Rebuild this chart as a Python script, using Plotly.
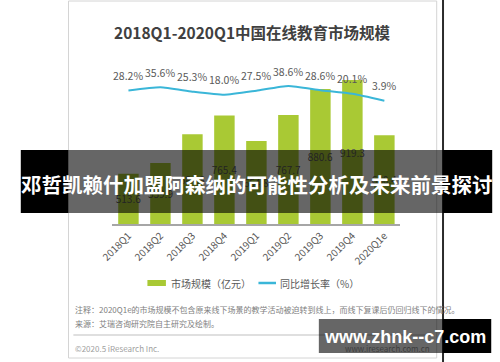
import plotly.graph_objects as go

# ---------------- data ----------------
categories = ["2018Q1", "2018Q2", "2018Q3", "2018Q4", "2019Q1",
              "2019Q2", "2019Q3", "2019Q4", "2020Q1e"]
market_size = [513.6, 559.9, 684.8, 765.4, 654.8, 767.7, 880.6, 919.3, 680.4]
growth_rate = [28.2, 35.6, 25.3, 18.0, 27.5, 38.6, 28.6, 20.1, 3.9]

title_text = "2018Q1-2020Q1中国在线教育市场规模"
legend_bar = "市场规模（亿元）"
legend_line = "同比增长率（%）"
note_text = "注释：2020Q1e的市场规模不包含原来线下场景的教学活动被迫转到线上，而线下复课后仍回归线下的情况。"
source_text = "来源：艾瑞咨询研究院自主研究及绘制。"
copyright_text = "©2020.5 iResearch Inc."
site_text = "www.iresearch.com.cn"
banner_text = "邓哲凯赖什加盟阿森纳的可能性分析及未来前景探讨"
watermark_text = "www.zhnk--c7.com"

# ---------------- styling ----------------
W, H = 500, 362
BAR = "#A9C934"
LINE = "#3AB6D8"
CJK = "Noto Sans CJK SC"
Y_MIN, Y_MAX = 296, 1006
Y2_MIN, Y2_MAX = -287.2, 100


def px(x):
    return x / W


def py(y):
    return 1 - y / H


fig = go.Figure()

fig.add_trace(go.Bar(
    x=categories, y=[v - Y_MIN for v in market_size], base=Y_MIN,
    marker=dict(color=BAR, line=dict(width=0)),
    text=[f"{v:.1f}" for v in market_size],
    textposition="inside", insidetextanchor="middle", textangle=0,
    constraintext="none",
    textfont=dict(family=CJK, size=10, color="#595959"),
    yaxis="y", hoverinfo="skip",
))

fig.add_trace(go.Scatter(
    x=categories, y=growth_rate, mode="lines",
    line=dict(color=LINE, width=2, shape="spline", smoothing=0.5),
    yaxis="y2", hoverinfo="skip",
))

annotations = []
for c, r in zip(categories, growth_rate):
    annotations.append(dict(
        x=c, y=r, xref="x", yref="y2", text=f"{r:.1f}%", showarrow=False,
        yshift=15, xanchor="center", yanchor="middle",
        font=dict(family=CJK, size=10.5, color="#595959"),
    ))


def ann(text, x, y, size, color, xanchor="left", family=CJK):
    annotations.append(dict(
        x=px(x), y=py(y), xref="paper", yref="paper", text=text,
        showarrow=False, xanchor=xanchor, yanchor="middle",
        font=dict(family=family, size=size, color=color),
    ))


ann("<b>" + title_text + "</b>", 246, 32, 15.5, "#404040", "center")
ann(legend_bar, 160, 283, 10, "#595959")
ann(legend_line, 272, 283, 10, "#595959")
ann(note_text, 62, 309, 8, "#808080")
ann(source_text, 62, 323, 8, "#808080")
ann(copyright_text, 62, 348, 8, "#a0a0a0")
ann(site_text, 430, 348, 8, "#3d3d3d", "right")
ann("<b>" + banner_text + "</b>", 250, 184, 20.5, "white", "center")
ann("<b>" + watermark_text + "</b>", 402, 337, 18, "white", "center",
    "Liberation Sans, Arial, sans-serif")


def rect(x0, y0, x1, y1, fill, layer="above", line_color=None, lw=0):
    return dict(type="rect", xref="paper", yref="paper",
                x0=px(x0), x1=px(x1), y0=py(y1), y1=py(y0),
                fillcolor=fill, layer=layer,
                line=dict(color=line_color or "rgba(0,0,0,0)", width=lw))


def hline(x0, x1, y, color, width, layer="below"):
    return dict(type="line", xref="paper", yref="paper",
                x0=px(x0), x1=px(x1), y0=py(y), y1=py(y),
                line=dict(color=color, width=width), layer=layer)


shapes = [
    # chart panel
    rect(57, 1, 435, 358, "white", "below", "#d4d4d4", 1),
    # dark vertical separator on the right
    dict(type="line", xref="paper", yref="paper", x0=px(441.5), x1=px(441.5),
         y0=0, y1=1, line=dict(color="#2b2b2b", width=2), layer="below"),
    # footer separator
    hline(62, 430, 335, "#bfbfbf", 1),
    # legend symbols
    rect(138, 280, 157, 286, BAR, "below"),
    hline(252, 270, 283, LINE, 2.5),
    # banner overlay
    rect(8, 150, 57, 213, "black"),
    rect(57, 150, 441, 213, "rgba(0,0,0,0.6)"),
    rect(441, 150, 492, 213, "black"),
    # watermark box
    rect(314, 319, 441, 353, "rgba(0,0,0,0.6)"),
    rect(441, 319, 491, 353, "black"),
]

fig.update_layout(
    width=W, height=H, autosize=False,
    margin=dict(l=0, r=0, t=0, b=0, pad=0),
    paper_bgcolor="white", plot_bgcolor="rgba(0,0,0,0)",
    showlegend=False, bargap=0.36,
    xaxis=dict(
        domain=[px(102.1), px(397.7)], range=[-0.5, 8.5], type="category",
        showline=True, linecolor="#a6a6a6", linewidth=2, ticks="",
        tickangle=-45, showgrid=False, zeroline=False,
        tickfont=dict(family=CJK, size=10, color="#595959"), anchor="y",
    ),
    yaxis=dict(domain=[py(224), py(60)], range=[Y_MIN, Y_MAX], visible=False,
               showgrid=False, zeroline=False),
    yaxis2=dict(domain=[py(224), py(60)], range=[Y2_MIN, Y2_MAX],
                overlaying="y", visible=False, showgrid=False, zeroline=False),
    annotations=annotations, shapes=shapes,
)

fig.write_html("out.html", config={"displayModeBar": False},
               post_script="document.body.style.margin='0';")
